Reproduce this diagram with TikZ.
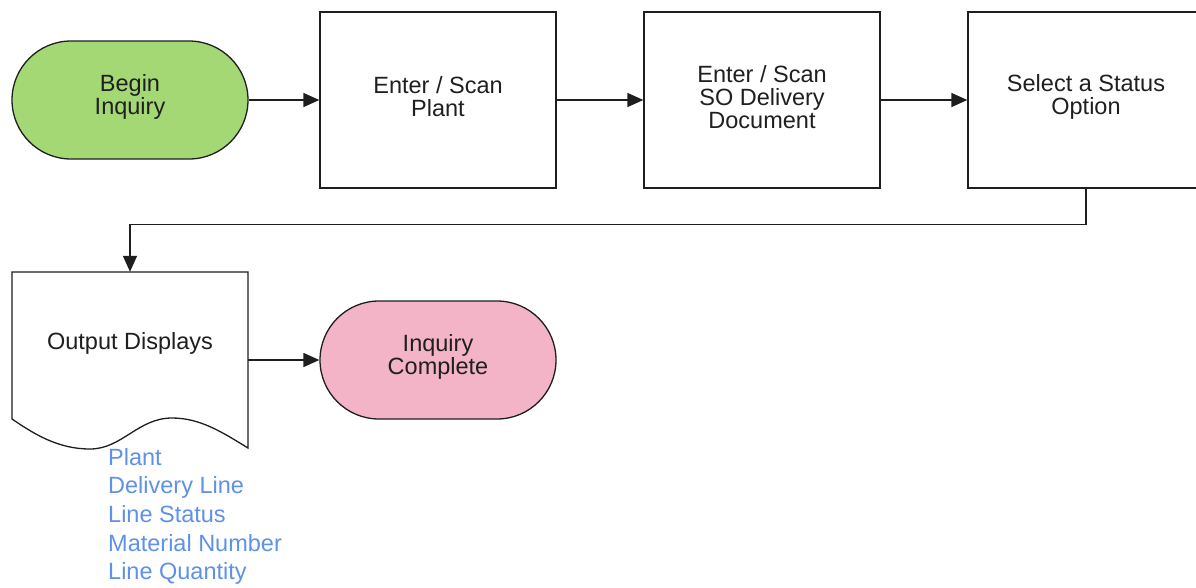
\documentclass[tikz,border=0pt]{standalone}
\usepackage{fontspec}
\setmainfont{Liberation Sans}
\usetikzlibrary{arrows.meta}
\definecolor{startgreen}{RGB}{164,216,116}
\definecolor{endpink}{RGB}{243,180,200}
\definecolor{linecol}{RGB}{30,30,30}
\definecolor{listblue}{RGB}{95,145,232}
\begin{document}
\begin{tikzpicture}[x=1pt,y=-1pt,
  every node/.style={font=\fontsize{23.5}{23}\selectfont, text=black!88, align=center},
  stadium/.style={draw=linecol, line width=1.3pt, minimum width=236pt, minimum height=118pt, rounded corners=59pt, inner sep=0pt},
  procbox/.style={draw=linecol, line width=1.3pt, minimum width=236pt, minimum height=176pt, inner sep=0pt},
  flow/.style={draw=linecol, line width=1.3pt, -{Triangle[length=16pt,width=14pt]}}
]
\useasboundingbox (0,0) rectangle (1196,587);
\begin{scope}
\clip (0,0) rectangle (1196,587);
\node[procbox] (plant) at (438,100) {};
\node (planttext) at (438,97) {Enter / Scan\\Plant};
\node[procbox] (sodoc) at (762,100) {};
\node (sodoctext) at (762,97) {Enter / Scan\\SO Delivery\\Document};
\node[procbox] (status) at (1086,100) {};
\node (statustext) at (1086,97) {Select a Status\\Option};
\node[stadium, fill=startgreen] (begin) at (130,100) {};
\node (begintext) at (130,97) {Begin\\Inquiry};
\end{scope}
% document shape
\node[minimum width=236pt, minimum height=176pt, inner sep=0pt] (doc) at (130,360) {};
\draw[linecol, line width=1.3pt, fill=white] (12,272) -- (248,272) -- (248,448)
  .. controls (222,432) and (200,418) .. (172,418)
  .. controls (138,418) and (122,449) .. (90,449)
  .. controls (58,449) and (34,434) .. (12,419) -- cycle;
\node (doctext) at (130,343) {Output Displays};
\node[stadium, fill=endpink] (complete) at (438,360) {};
\node (completetext) at (438,357) {Inquiry\\Complete};
% list
\node[anchor=north west, inner sep=0pt, align=left, text=listblue,
  font=\fontsize{23.5}{28.6}\selectfont] (list) at (108,448)
  {Plant\\Delivery Line\\Line Status\\Material Number\\Line Quantity};
% connectors
\draw[flow] (begin.east) -- (plant.west);
\draw[flow] (plant.east) -- (sodoc.west);
\draw[flow] (sodoc.east) -- (status.west);
\draw[flow] (status.south) -- ++(0,36) -| (doc.north);
\draw[flow] (doc.east) -- (complete.west);
\end{tikzpicture}
\end{document}
